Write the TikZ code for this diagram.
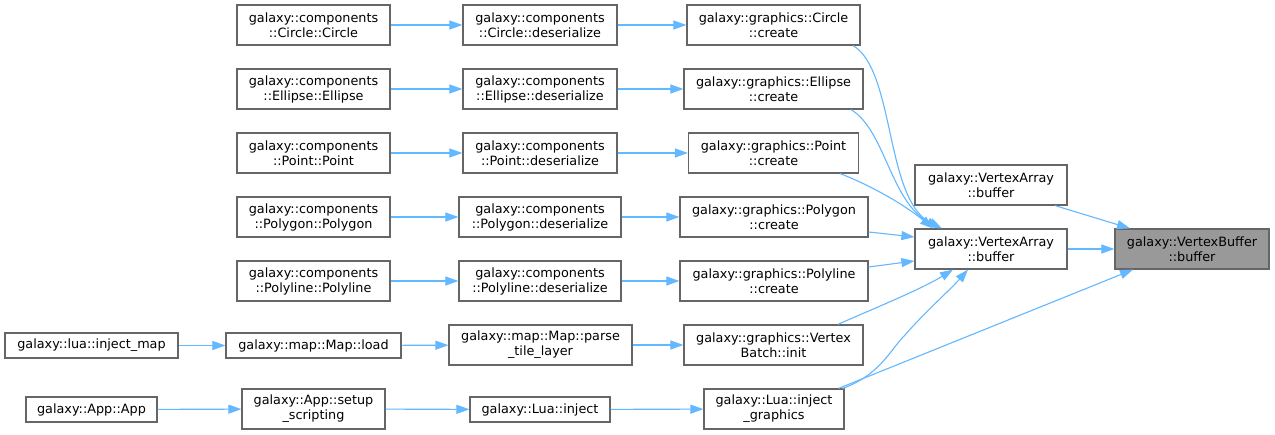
\documentclass[tikz,border=0pt]{standalone}
\usepackage{fontspec}
\setmainfont{DejaVu Sans}
\usetikzlibrary{arrows.meta}
\definecolor{edgec}{HTML}{63B8FF}
\definecolor{bordc}{HTML}{666666}
\definecolor{hl}{HTML}{999999}
\begin{document}
\begin{tikzpicture}[x=1pt,y=-1pt,
  font=\fontsize{12.8}{15}\selectfont,
  box/.style={draw=bordc, line width=1.2pt, fill=white, inner sep=0pt, align=center, minimum height=40pt},
  sbox/.style={box, minimum height=25pt},
  edge/.style={draw=edgec, line width=1.1pt, -{Triangle[length=13pt,width=9pt]}}]
\useasboundingbox[fill=white] (0,0) rectangle (1275,435);

% column 1
\node[sbox, minimum width=173pt] (injmap) at (91.5,345.5) {galaxy::lua::inject\_map};
\node[sbox, minimum width=131pt] (appapp) at (91.5,409.5) {galaxy::App::App};

% column 2
\node[box, minimum width=153pt] (ccirc) at (313.5,25) {galaxy::components\\::Circle::Circle};
\node[box, minimum width=153pt] (cell) at (313.5,89) {galaxy::components\\::Ellipse::Ellipse};
\node[box, minimum width=153pt] (cpt) at (313.5,153) {galaxy::components\\::Point::Point};
\node[box, minimum width=153pt] (cpoly) at (313.5,217) {galaxy::components\\::Polygon::Polygon};
\node[box, minimum width=153pt] (cpline) at (313.5,281) {galaxy::components\\::Polyline::Polyline};
\node[sbox, minimum width=175pt] (mapload) at (313.5,345.5) {galaxy::map::Map::load};
\node[box, minimum width=143pt] (setup) at (313.5,409) {galaxy::App::setup\\\_scripting};

% column 3
\node[box, minimum width=154pt] (dcirc) at (540,25) {galaxy::components\\::Circle::deserialize};
\node[box, minimum width=154pt] (dell) at (540,89) {galaxy::components\\::Ellipse::deserialize};
\node[box, minimum width=154pt] (dpt) at (540,153) {galaxy::components\\::Point::deserialize};
\node[box, minimum width=162pt] (dpoly) at (540,217) {galaxy::components\\::Polygon::deserialize};
\node[box, minimum width=162pt] (dpline) at (540,281) {galaxy::components\\::Polyline::deserialize};
\node[box, minimum width=183pt] (parse) at (540.5,345) {galaxy::map::Map::parse\\\_tile\_layer};
\node[sbox, minimum width=140pt] (luainj) at (540,409.5) {galaxy::Lua::inject};

% column 4
\node[box, minimum width=173pt] (gcirc) at (773.5,25) {galaxy::graphics::Circle\\::create};
\node[box, minimum width=179pt] (gell) at (773.5,89) {galaxy::graphics::Ellipse\\::create};
\node[box, minimum width=170pt] (gpt) at (773.5,153) {galaxy::graphics::Point\\::create};
\node[box, minimum width=188pt] (gpoly) at (774,217) {galaxy::graphics::Polygon\\::create};
\node[box, minimum width=188pt] (gpline) at (774,281) {galaxy::graphics::Polyline\\::create};
\node[box, minimum width=179pt] (vbinit) at (773.5,345) {galaxy::graphics::Vertex\\Batch::init};
\node[box, minimum width=140pt] (injgfx) at (774,409) {galaxy::Lua::inject\\\_graphics};

% column 5
\node[box, minimum width=152pt] (vatop) at (991,185) {galaxy::VertexArray\\::buffer};
\node[box, minimum width=152pt] (vamain) at (991,249) {galaxy::VertexArray\\::buffer};

% column 6
\node[box, minimum width=154pt, fill=hl] (vb) at (1192,249) {galaxy::VertexBuffer\\::buffer};

% horizontal edges
\draw[edge] (ccirc) -- (dcirc);
\draw[edge] (cell) -- (dell);
\draw[edge] (cpt) -- (dpt);
\draw[edge] (cpoly) -- (dpoly);
\draw[edge] (cpline) -- (dpline);
\draw[edge] (injmap) -- (mapload);
\draw[edge] (mapload) -- (parse);
\draw[edge] (appapp) -- (setup);
\draw[edge] (setup) -- (luainj);
\draw[edge] (luainj) -- (injgfx);
\draw[edge] (dcirc) -- (gcirc);
\draw[edge] (dell) -- (gell);
\draw[edge] (dpt) -- (gpt);
\draw[edge] (dpoly) -- (gpoly);
\draw[edge] (dpline) -- (gpline);
\draw[edge] (parse) -- (vbinit);
\draw[edge] (vamain) -- (vb);

% edges into VertexArray::buffer
\draw[edge] ([xshift=79.5pt]gcirc.south) .. controls (895,70) and (885,200) .. ([xshift=-49pt]vamain.north);
\draw[edge] ([xshift=77.5pt]gell.south) .. controls (885,130) and (890,200) .. ([xshift=-52pt]vamain.north);
\draw[edge] ([xshift=66.5pt]gpt.south) .. controls (870,185) and (905,205) .. ([xshift=-58pt]vamain.north);
\draw[edge] ([yshift=-15pt]gpoly.east) -- ([yshift=12pt]vamain.west);
\draw[edge] ([yshift=14pt]gpline.east) -- ([yshift=-12pt]vamain.west);
\draw[edge] ([xshift=64.5pt]vbinit.north) .. controls (870,310) and (920,290) .. ([xshift=-38pt]vamain.south);
\draw[edge] ([xshift=-2pt]injgfx.north east) .. controls (880,375) and (890,350) .. (905,335) .. controls (925,312) and (950,290) .. ([xshift=-23pt]vamain.south);

% edges into VertexBuffer::buffer
\draw[edge] ([xshift=-6pt]injgfx.north east) -- ([xshift=-59pt]vb.south);
\draw[edge] ([xshift=64pt]vatop.south) -- ([xshift=-62pt]vb.north);
\end{tikzpicture}
\end{document}
